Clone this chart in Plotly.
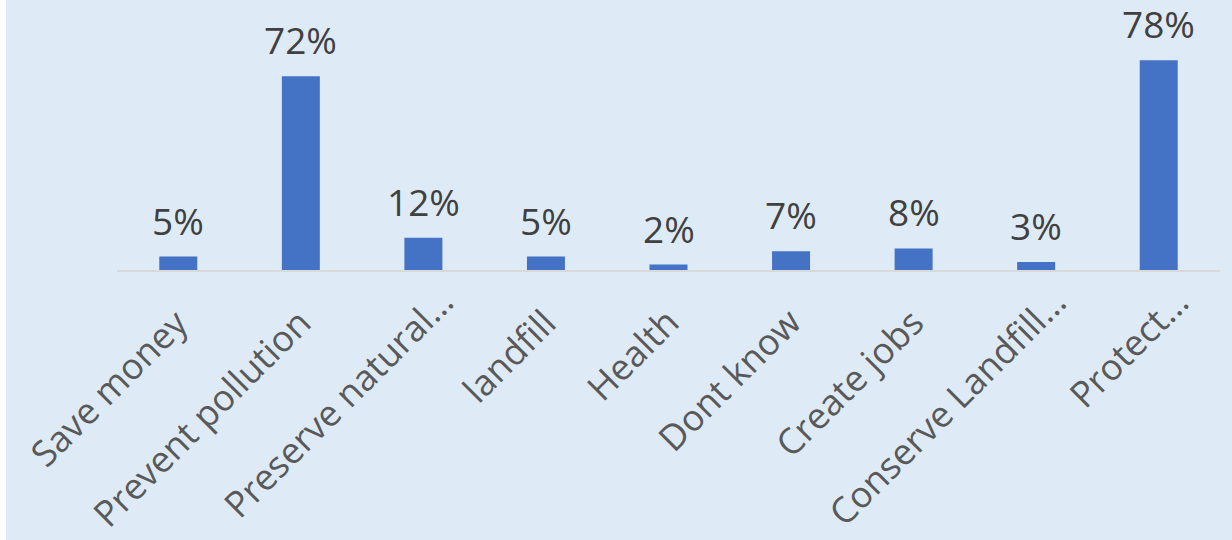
import plotly.graph_objects as go

categories = [
    "Save money", "Prevent pollution", "Preserve natural…", "landfill",
    "Health", "Dont know", "Create jobs", "Conserve Landfill…", "Protect…",
]
values = [5, 72, 12, 5, 2, 7, 8, 3, 78]
value_labels = ["5%", "72%", "12%", "5%", "2%", "7%", "8%", "3%", "78%"]

BG = "#DEEBF7"
BAR = "#4472C4"
FONT = "Open Sans, Segoe UI, sans-serif"

fig = go.Figure(
    go.Bar(
        x=categories,
        y=values,
        marker=dict(color=BAR, line=dict(width=0)),
        hoverinfo="skip",
    )
)

# value labels above the bars
for cat, val, lab in zip(categories, values, value_labels):
    fig.add_annotation(
        x=cat, y=val, text=lab, showarrow=False,
        yanchor="bottom", yshift=9,
        font=dict(family=FONT, size=37, color="#404040"),
    )

# slanted category labels under the axis; truncated names sit a bit further out
for cat in categories:
    extra = 20 if cat.endswith("…") else 0
    fig.add_annotation(
        x=cat, y=0, text=cat, showarrow=False, textangle=-45,
        xanchor="right", yanchor="top",
        xshift=23 + extra, yshift=-25 + extra,
        font=dict(family=FONT, size=36, color="#595959"),
    )

# thin white strip along the left edge of the canvas
fig.add_shape(
    type="rect", xref="paper", yref="paper",
    x0=-1, x1=-117 / 1103 + 6 / 1103, y0=-2, y1=2,
    fillcolor="white", line=dict(width=0), layer="below",
)

fig.update_layout(
    width=1232, height=540,
    margin=dict(l=117, r=12, t=0, b=270),
    paper_bgcolor=BG, plot_bgcolor=BG,
    bargap=0.69,
    showlegend=False,
    xaxis=dict(
        range=[-0.5, len(categories) - 0.5],
        showticklabels=False,
        automargin=False,
        showline=True, linecolor="#D9D9D9", linewidth=2,
        ticks="", showgrid=False, fixedrange=True,
    ),
    yaxis=dict(
        range=[0, 100.4], visible=False, showgrid=False, zeroline=False,
        fixedrange=True, automargin=False,
    ),
)

fig.write_html("out.html")
